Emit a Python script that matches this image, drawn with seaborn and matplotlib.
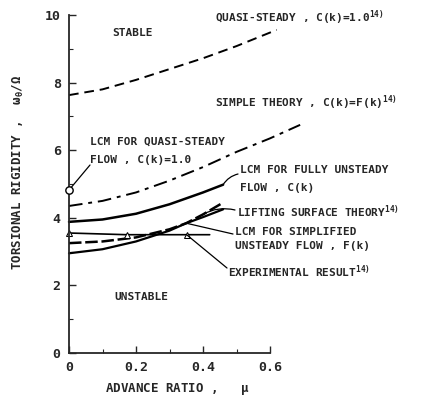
import numpy as np
import pandas as pd
import matplotlib.pyplot as plt
import seaborn as sns

# Curvas (mu, omega_theta / Omega)
mu_quasi = [0.0, 0.1, 0.2, 0.3, 0.4, 0.5, 0.62]
w_quasi = [7.63, 7.8, 8.08, 8.4, 8.72, 9.08, 9.56]

mu_simple = [0.0, 0.1, 0.2, 0.3, 0.4, 0.5, 0.6, 0.69]
w_simple = [4.35, 4.5, 4.75, 5.1, 5.5, 5.95, 6.35, 6.75]

mu_full = [0.0, 0.1, 0.2, 0.3, 0.4, 0.46]
w_full = [3.88, 3.95, 4.12, 4.4, 4.75, 4.98]

mu_lift = [0.0, 0.1, 0.2, 0.3, 0.35, 0.4, 0.46]
w_lift = [3.25, 3.3, 3.42, 3.66, 3.84, 4.1, 4.45]

mu_simpl = [0.0, 0.1, 0.2, 0.3, 0.35, 0.4, 0.46]
w_simpl = [2.95, 3.07, 3.3, 3.62, 3.84, 4.02, 4.25]

mu_exp = [0.0, 0.172, 0.351, 0.42]
w_exp = [3.55, 3.5, 3.5, 3.5]

mu_lcm_qs = [0.0]
w_lcm_qs = [4.82]

x_ticks = [0, 0.2, 0.4, 0.6]
x_tick_labels = ["0", "0.2", "0.4", "0.6"]
y_ticks = [0, 2, 4, 6, 8, 10]

sns.set_style("ticks")
plt.rcParams["font.family"] = ["DejaVu Sans Mono", "DejaVu Sans"]
plt.rcParams["font.weight"] = "bold"
plt.rcParams["mathtext.fontset"] = "custom"
plt.rcParams["mathtext.rm"] = "DejaVu Sans Mono:bold"
plt.rcParams["mathtext.it"] = "DejaVu Sans Mono:italic:bold"
plt.rcParams["mathtext.default"] = "regular"

fig, ax = plt.subplots(figsize=(4.29, 4.01), dpi=100)
fig.subplots_adjust(left=69/429, right=270/429, bottom=1-353/401, top=1-15/401)

def curva(mu, w, **kw):
    df = pd.DataFrame({"mu": mu, "w": w})
    sns.lineplot(data=df, x="mu", y="w", ax=ax, color="black", sort=False,
                 clip_on=False, **kw)

curva(mu_quasi, w_quasi, lw=1.4, dashes=(5, 3))
curva(mu_simple, w_simple, lw=1.4, dashes=(7, 3, 2, 3))
curva(mu_full, w_full, lw=1.8)
curva(mu_lift, w_lift, lw=1.8, dashes=(5, 1.5))
curva(mu_simpl, w_simpl, lw=1.6)
curva(mu_exp, w_exp, lw=1.2, marker="^", markersize=5, markerfacecolor="white",
      markeredgecolor="black", markevery=[0, 1, 2])
sns.scatterplot(x=mu_lcm_qs, y=w_lcm_qs, ax=ax, marker="o", s=28, facecolor="white",
                edgecolor="black", linewidth=1.0, clip_on=False, zorder=5)

ax.set_xlim(0, 0.6)
ax.set_ylim(0, 10)
ax.set_xticks(x_ticks)
ax.set_xticklabels(x_tick_labels)
ax.set_yticks(y_ticks)
ax.set_xticks([0.1, 0.3, 0.5], minor=True)
ax.set_yticks([1, 3, 5, 7, 9], minor=True)
ax.tick_params(direction="in", length=5, width=1.0, labelsize=9.5, pad=6)
ax.tick_params(which="minor", direction="in", length=3, width=0.8)
ax.set_xlabel("")
ax.set_ylabel("")
sns.despine(ax=ax)
for s in ["left", "bottom"]:
    ax.spines[s].set_linewidth(1.3)

# Textos (posicoes em pixels da figura)
H = 401
fs = 8
def txt(x, y, s, **kw):
    fig.text(x / 429, 1 - y / H, s, fontsize=fs, va="center", ha="left", **kw)

txt(112, 33, "STABLE")
txt(114, 297, "UNSTABLE")
txt(215, 18, "QUASI-STEADY , C(k)=1.0$^{14)}$")
txt(215, 103, "SIMPLE THEORY , C(k)=F(k)$^{14)}$")
txt(90, 142, "LCM FOR QUASI-STEADY")
txt(90, 160, "FLOW , C(k)=1.0")
txt(240, 170, "LCM FOR FULLY UNSTEADY")
txt(240, 188, "FLOW , C(k)")
txt(237, 212, "LIFTING SURFACE THEORY$^{14)}$")
txt(235, 232, "LCM FOR SIMPLIFIED")
txt(235, 246, "UNSTEADY FLOW , F(k)")
txt(228, 272, "EXPERIMENTAL RESULT$^{14)}$")

fig.text(18 / 429, 1 - 172 / H, r"TORSIONAL RIGIDITY ,  $\omega_\theta/\Omega$",
         rotation=90, fontsize=9, ha="center", va="center")
fig.text(105 / 429, 1 - 389 / H, r"ADVANCE RATIO ,   $\mu$",
         fontsize=9, ha="left", va="center")

# Linhas de chamada
def chamada(px, py, mu, w, rad=0.0):
    ax.annotate("", xy=(mu, w), xycoords="data",
                xytext=(px, H - py), textcoords="figure pixels",
                arrowprops=dict(arrowstyle="-", color="black", lw=0.9,
                                shrinkA=0, shrinkB=0,
                                connectionstyle=f"arc3,rad={rad}"),
                annotation_clip=False)

chamada(90, 165, mu_lcm_qs[0], w_lcm_qs[0])
chamada(238, 174, mu_full[-1], w_full[-1], rad=0.2)
chamada(235, 210, mu_lift[-2], w_lift[-2], rad=0.2)
chamada(233, 234, mu_simpl[4], w_simpl[4])
chamada(227, 268, mu_exp[2], w_exp[2])

fig.savefig("out.png", dpi=100)
